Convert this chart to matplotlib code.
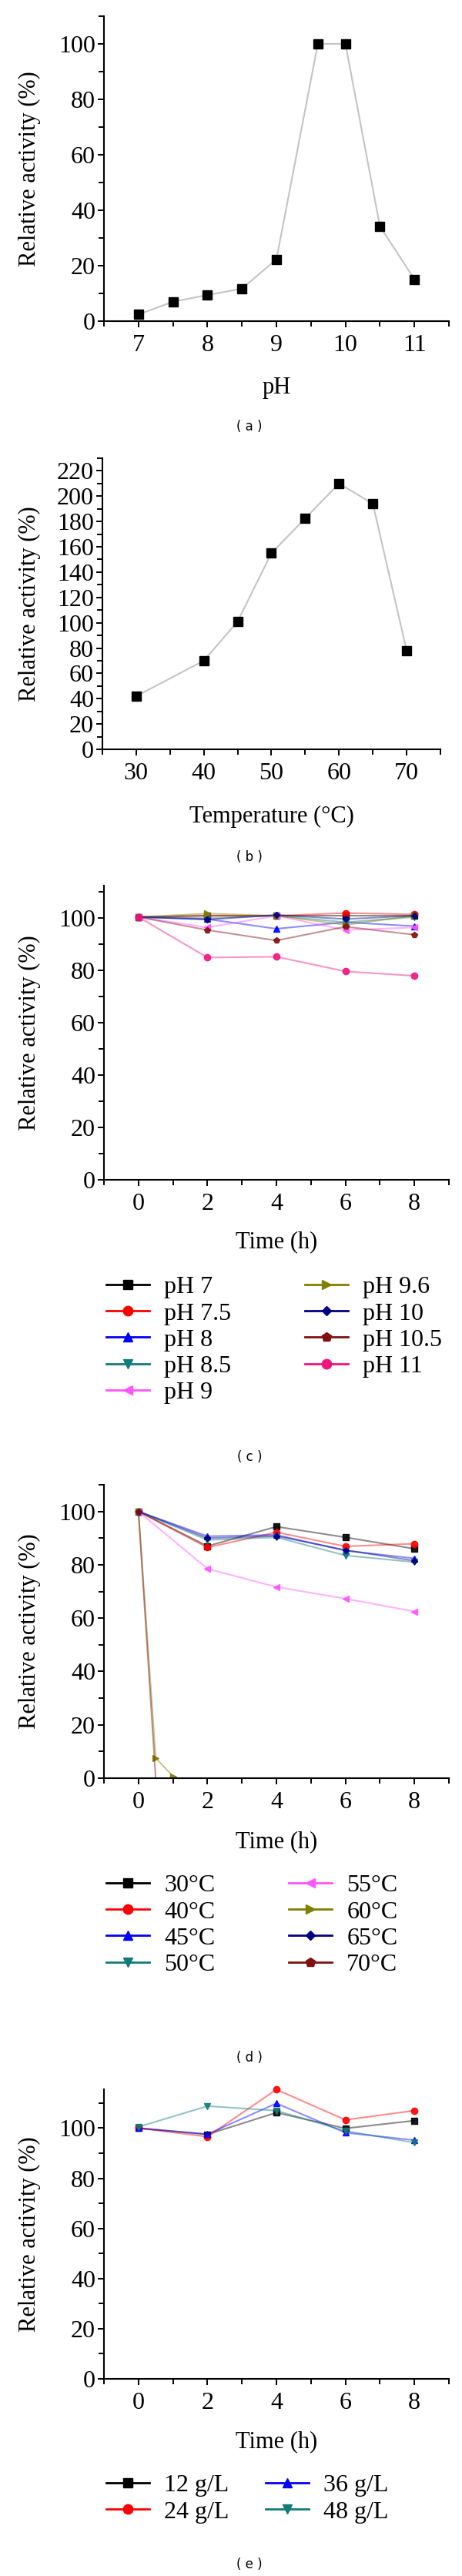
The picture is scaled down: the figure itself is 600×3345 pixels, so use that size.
import matplotlib
matplotlib.use('Agg')
import matplotlib.pyplot as plt
from matplotlib.lines import Line2D
from matplotlib.colors import to_rgba
from matplotlib.ticker import MultipleLocator

plt.rcParams['font.family'] = ['Liberation Serif', 'DejaVu Serif']

W, H = 600, 3345

# (a) effect of pH
ph = [7, 7.5, 8, 8.5, 9, 9.6, 10, 10.5, 11]
ph_activity = [2.4, 7.0, 9.4, 11.7, 22.3, 100, 100, 34.2, 15.1]

# (b) effect of temperature
temp = [30, 40, 45, 50, 55, 60, 65, 70]
temp_activity = [42, 70, 101, 155, 182.5, 210, 194, 78]

# (c) pH stability
time_h = [0, 2, 4, 6, 8]
ph_names = ['pH 7', 'pH 7.5', 'pH 8', 'pH 8.5', 'pH 9', 'pH 9.6', 'pH 10', 'pH 10.5', 'pH 11']
ph_stab = [
    [100.5, 101.0, 101.0, 101.0, 101.0],
    [100.5, 101.0, 101.0, 102.0, 101.5],
    [100.5, 99.7, 96.0, 98.5, 97.0],
    [100.5, 100.0, 101.0, 98.5, 100.5],
    [100.5, 96.5, 101.0, 95.5, 96.5],
    [100.5, 101.8, 101.0, 97.5, 101.0],
    [100.5, 99.5, 101.3, 99.7, 101.0],
    [100.5, 95.5, 91.5, 96.8, 93.7],
    [100.5, 85.0, 85.3, 79.7, 78.0],
]

# (d) thermal stability (60 and 70 C lose activity within the first hour)
temp_names = ['30°C', '40°C', '45°C', '50°C', '55°C', '60°C', '65°C', '70°C']
temp_time = [time_h, time_h, time_h, time_h, time_h, [0, 0.5, 1], time_h, [0, 0.5]]
temp_stab = [
    [100, 87.0, 94.3, 90.3, 86.0],
    [100, 86.5, 92.2, 86.9, 87.9],
    [100, 90.7, 91.2, 85.3, 82.4],
    [100, 89.3, 90.3, 83.5, 81.0],
    [100, 78.5, 71.7, 67.3, 62.5],
    [100, 7.6, 0.7],
    [100, 90.0, 90.8, 85.5, 81.5],
    [100, 0.0],
]

# (e) stability at different concentrations
conc_names = ['12 g/L', '24 g/L', '36 g/L', '48 g/L']
conc_stab = [
    [100, 97.5, 106.2, 99.9, 103.0],
    [100, 96.6, 115.4, 103.3, 107.0],
    [100, 97.6, 109.9, 98.2, 95.2],
    [100.5, 108.8, 107.0, 98.9, 94.2],
]

colors = ['#000000', '#ff0000', '#0000ff', '#127a7a', '#ff55ff',
          '#808000', '#000080', '#7f1111', '#f0157f']
markers = ['s', 'o', '^', 'v', '<', '>', 'D', 'p', 'o']
msize = [1, 1, 1, 1, 1, 1, 0.7, 1, 1]  # diamond drawn smaller

fig = plt.figure(figsize=(W / 100, H / 100), dpi=100)


def add_axes(top, bottom, left=135, right=583):
    return fig.add_axes([left / W, 1 - bottom / H, (right - left) / W, (bottom - top) / H])


def style(ax, top, bottom, xlabel, xlab_y, panel, panel_y, left=135, right=583):
    for s in ['top', 'right']:
        ax.spines[s].set_visible(False)
    for s in ['left', 'bottom']:
        ax.spines[s].set_linewidth(1.5)
    ax.tick_params(which='major', direction='out', length=6, width=1.4, labelsize=23)
    ax.tick_params(which='minor', direction='out', length=5, width=1.4)
    ax.tick_params(axis='x', pad=6)
    ax.tick_params(axis='y', pad=2)
    ax.set_xlabel(xlabel, fontsize=22)
    ax.xaxis.set_label_coords(0.5, (bottom - xlab_y) / (bottom - top))
    ax.xaxis.label.set_va('center')
    ax.set_ylabel('Relative activity (%)', fontsize=22)
    ax.yaxis.set_label_coords((38 - left) / (right - left), 0.5)
    ax.yaxis.label.set_va('center')
    fig.text(324 / W, 1 - panel_y / H, '( %s )' % panel, family='DejaVu Sans',
             fontsize=12, ha='center', va='center')


def legend(ax, labels, n, x0, y_top, colsp):
    handles = [Line2D([], [], color=colors[i], marker=markers[i], ms=9 * msize[i], lw=2)
               for i in range(n)]
    ax.legend(handles, labels, loc='upper left', bbox_to_anchor=(x0 / W, 1 - y_top / H),
              bbox_transform=fig.transFigure, ncol=2, frameon=False, fontsize=23,
              handlelength=1.75, handletextpad=0.6, columnspacing=colsp,
              labelspacing=0.15, borderpad=0, borderaxespad=0)


# (a)
ax = add_axes(21, 417)
ax.plot(ph, ph_activity, color='#c4c4c4', lw=1.5, marker='s', ms=8.5,
        mfc='black', mec='black', clip_on=False)
ax.set_xlim(6.5, 11.5)
ax.set_ylim(0, 110)
ax.xaxis.set_major_locator(MultipleLocator(1))
ax.xaxis.set_minor_locator(MultipleLocator(0.5))
ax.yaxis.set_major_locator(MultipleLocator(20))
ax.yaxis.set_minor_locator(MultipleLocator(10))
style(ax, 21, 417, 'pH', 503, 'a', 554)

# (b)
ax = add_axes(595, 973, left=133, right=572)
ax.plot(temp, temp_activity, color='#c4c4c4', lw=1.5, marker='s', ms=8.5,
        mfc='black', mec='black', clip_on=False)
ax.set_xlim(25, 75)
ax.set_ylim(0, 230)
ax.xaxis.set_major_locator(MultipleLocator(10))
ax.xaxis.set_minor_locator(MultipleLocator(5))
ax.yaxis.set_major_locator(MultipleLocator(20))
ax.yaxis.set_minor_locator(MultipleLocator(10))
style(ax, 595, 973, 'Temperature (°C)', 1060, 'b', 1113, left=133, right=572)


def stability_axes(top, bottom, ymax):
    ax = add_axes(top, bottom)
    ax.set_xlim(-1, 9)
    ax.set_ylim(0, ymax)
    ax.xaxis.set_major_locator(MultipleLocator(2))
    ax.xaxis.set_minor_locator(MultipleLocator(1))
    ax.yaxis.set_major_locator(MultipleLocator(20))
    ax.yaxis.set_minor_locator(MultipleLocator(10))
    return ax


def series(ax, x, y, i, clip=True):
    # 70 C drops to zero: marker only at the start
    every = [0] if (len(x) == 2) else None
    ax.plot(x, y, color=to_rgba(colors[i], 0.45), lw=1.5, marker=markers[i], ms=6 * msize[i],
            mfc=to_rgba(colors[i], 0.9), mec=to_rgba(colors[i], 0.9),
            markevery=every, clip_on=clip)


# (c)
ax = stability_axes(1150, 1532, 112.5)
for i, y in enumerate(ph_stab):
    series(ax, time_h, y, i)
style(ax, 1150, 1532, 'Time (h)', 1613, 'c', 1892)
legend(ax, ph_names, 9, 138, 1657, 3.0)

# (d)
ax = stability_axes(1928, 2309, 110)
for i, y in enumerate(temp_stab):
    series(ax, temp_time[i], y, i)
style(ax, 1928, 2309, 'Time (h)', 2392, 'd', 2672)
legend(ax, temp_names, 8, 138, 2434, 3.0)

# (e)
ax = stability_axes(2713, 3089, 115.5)
for i, y in enumerate(conc_stab):
    series(ax, time_h, y, i, clip=False)
style(ax, 2713, 3089, 'Time (h)', 3171, 'e', 3330)
legend(ax, conc_names, 4, 138, 3213, 1.5)

fig.savefig('out.png', dpi=100)
